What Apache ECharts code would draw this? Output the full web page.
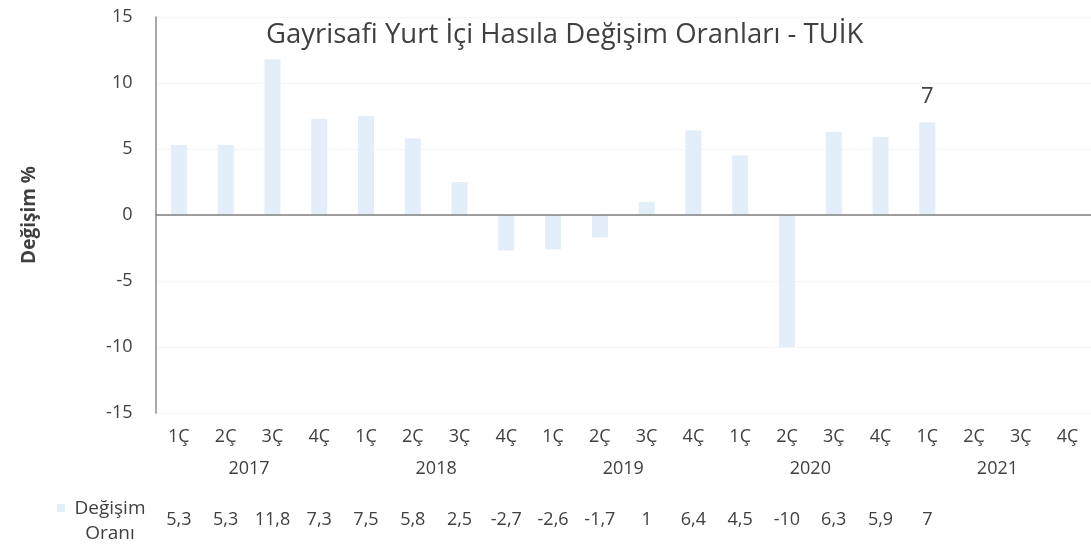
<!DOCTYPE html>
<html>
<head>
<meta charset="utf-8">
<script src="https://cdn.jsdelivr.net/npm/echarts@6/dist/echarts.min.js"></script>
<style>
  html, body { margin: 0; padding: 0; background: #fff; }
  #main { width: 1091px; height: 555px; }
</style>
</head>
<body>
<div id="main"></div>
<script>
// quarters along the axis, grouped by year
const quarters = ["1Ç", "2Ç", "3Ç", "4Ç", "1Ç", "2Ç", "3Ç", "4Ç", "1Ç", "2Ç", "3Ç", "4Ç",
                  "1Ç", "2Ç", "3Ç", "4Ç", "1Ç", "2Ç", "3Ç", "4Ç"];
const years = ["2017", "2018", "2019", "2020", "2021"];
// GDP change rate (%), 2021 2Ç-4Ç not published yet
const values = [5.3, 5.3, 11.8, 7.3, 7.5, 5.8, 2.5, -2.7, -2.6, -1.7, 1, 6.4,
                4.5, -10, 6.3, 5.9, 7, null, null, null];
const yMin = -15, yMax = 15, yStep = 5;

const FONT = "Open Sans";
const TXT = "#404040";
const BAR = "#e3eef9";

const chart = echarts.init(document.getElementById("main"), null, { renderer: "canvas" });

// table row text, Turkish decimal comma
const tableLabels = values.map((v) => (v == null ? "" : String(v).replace(".", ",")));
let lastIdx = 0;
values.forEach((v, i) => { if (v != null) lastIdx = i; });

const option = {
  animation: false,
  textStyle: { fontFamily: FONT },
  title: {
    text: "Gayrisafi Yurt İçi Hasıla Değişim Oranları - TUİK",
    left: 261,
    top: 16,
    textStyle: { fontFamily: FONT, fontSize: 27.5, fontWeight: "normal", color: TXT },
  },
  legend: {
    left: 52,
    top: 494,
    icon: "rect",
    itemWidth: 8,
    itemHeight: 8,
    itemGap: 2,
    formatter: () => "{t|Değişim}\n{t|Oranı}",
    textStyle: {
      fontFamily: FONT, fontSize: 19, color: TXT, padding: [26, 0, 0, 0],
      rich: { t: { fontFamily: FONT, fontSize: 19, color: TXT, width: 80, align: "center", lineHeight: 25 } },
    },
  },
  grid: {
    left: 155.5,
    top: 17,
    width: 940,
    height: 396,
  },
  xAxis: [
    {
      type: "category",
      data: quarters,
      axisLine: { show: false, onZero: false },
      axisTick: { show: false },
      axisLabel: { fontFamily: FONT, fontSize: 18, color: TXT, margin: 15 },
    },
    {
      type: "category",
      data: years,
      position: "bottom",
      offset: 33,
      axisLine: { show: false, onZero: false },
      axisTick: { show: false },
      axisLabel: { fontFamily: FONT, fontSize: 18, color: TXT, margin: 14 },
    },
    {
      type: "category",
      data: quarters,
      position: "bottom",
      offset: 84,
      axisLine: { show: false, onZero: false },
      axisTick: { show: false },
      axisLabel: {
        fontFamily: FONT, fontSize: 18, color: TXT, margin: 14,
        formatter: (v, i) => tableLabels[i],
      },
    },
  ],
  yAxis: {
    type: "value",
    min: yMin,
    max: yMax,
    interval: yStep,
    name: "Değişim %",
    nameLocation: "middle",
    nameGap: 116,
    nameRotate: 90,
    nameTextStyle: { fontFamily: FONT, fontSize: 19, fontWeight: "bold", color: TXT },
    axisLine: { show: true, lineStyle: { color: "#8c8c8c", width: 1.5 } },
    axisTick: { show: false },
    axisLabel: { fontFamily: FONT, fontSize: 18, color: TXT, margin: 23 },
    splitLine: { show: true, lineStyle: { color: "#f5f5f5" } },
  },
  series: [
    {
      name: "Değişim Oranı",
      type: "bar",
      xAxisIndex: 0,
      barWidth: 16,
      itemStyle: { color: BAR },
      label: { show: false },
      data: values.map((v, i) =>
        i === lastIdx
          ? {
              value: v,
              label: {
                show: true, position: "top", distance: 15,
                fontFamily: FONT, fontSize: 22, color: TXT,
              },
            }
          : v
      ),
      markLine: {
        silent: true,
        symbol: "none",
        label: { show: false },
        lineStyle: { color: "#7f7f7f", type: "solid", width: 1.5 },
        data: [{ yAxis: 0 }],
      },
    },
  ],
};

chart.setOption(option, true);
</script>
</body>
</html>
